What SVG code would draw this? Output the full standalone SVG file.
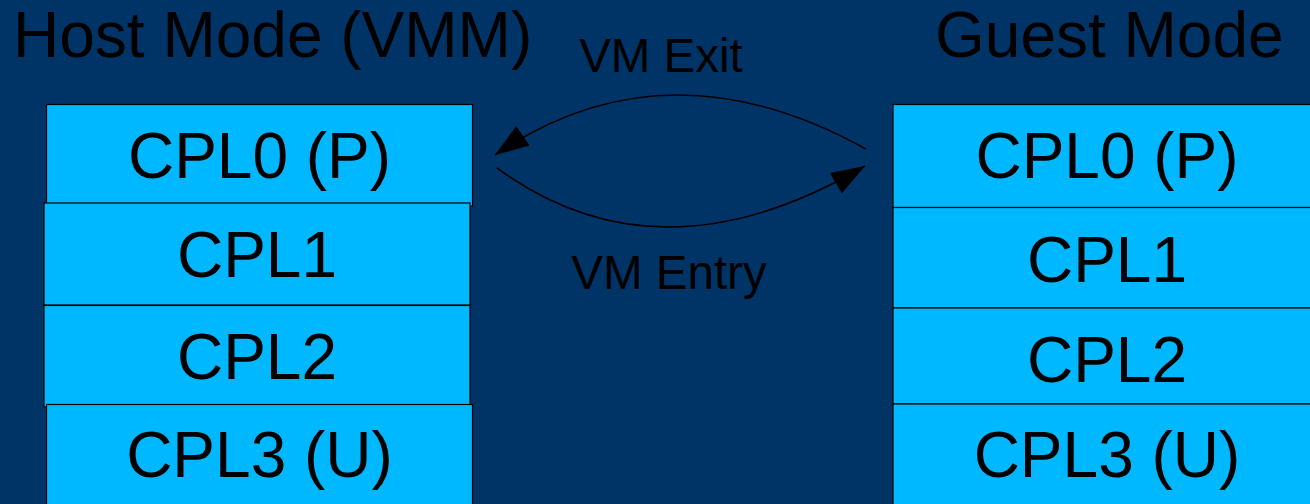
<svg xmlns="http://www.w3.org/2000/svg" width="1310" height="504" viewBox="0 0 1310 504">
<style>
.box{fill:#00b8ff;stroke:#000;stroke-width:1.2}
.t{font-family:"Liberation Sans",Arial,sans-serif;fill:#000}
.big{font-size:64px;text-anchor:middle}
.title{font-size:64px}
.lbl{font-size:47.5px;text-anchor:middle}
.conn{fill:none;stroke:#000;stroke-width:1.6}
</style>
<defs>
<marker id="ah" markerUnits="userSpaceOnUse" markerWidth="34" markerHeight="24" viewBox="0 0 33 23" refX="33" refY="11.5" orient="auto">
<path d="M0,0 L33,11.5 L0,23 Z" fill="#000"/>
</marker>
</defs>
<rect width="1310" height="504" fill="#003366"/>
<text class="t title" x="13" y="57">Host Mode (VMM)</text>
<text class="t title" x="935" y="57">Guest Mode</text>
<g id="host-cpl0"><rect class="box" x="46.5" y="104.5" width="426" height="101.5"/><text class="t big" x="259.5" y="178">CPL0 (P)</text></g>
<g id="host-cpl1"><rect class="box" x="44" y="203" width="426" height="102"/><text class="t big" x="257" y="277">CPL1</text></g>
<g id="host-cpl2"><rect class="box" x="44" y="305.5" width="426" height="101.5"/><text class="t big" x="257" y="379">CPL2</text></g>
<g id="host-cpl3"><rect class="box" x="46.5" y="404.5" width="426" height="110"/><text class="t big" x="259.5" y="477">CPL3 (U)</text></g>
<g id="guest-cpl0"><rect class="box" x="893" y="104.5" width="428" height="103"/><text class="t big" x="1107" y="178">CPL0 (P)</text></g>
<g id="guest-cpl1"><rect class="box" x="893" y="207.5" width="428" height="100.5"/><text class="t big" x="1107" y="282">CPL1</text></g>
<g id="guest-cpl2"><rect class="box" x="893" y="308" width="428" height="96"/><text class="t big" x="1107" y="382">CPL2</text></g>
<g id="guest-cpl3"><rect class="box" x="893" y="404" width="428" height="110"/><text class="t big" x="1107" y="477">CPL3 (U)</text></g>
<g id="connectors">
<path class="conn" d="M866,149 Q665.5,38 495,155" marker-end="url(#ah)"/>
<path class="conn" d="M497,168 Q659,287 865,166" marker-end="url(#ah)"/>
<text class="t lbl" x="661" y="72">VM Exit</text>
<text class="t lbl" x="669" y="289">VM Entry</text>
</g>
</svg>
